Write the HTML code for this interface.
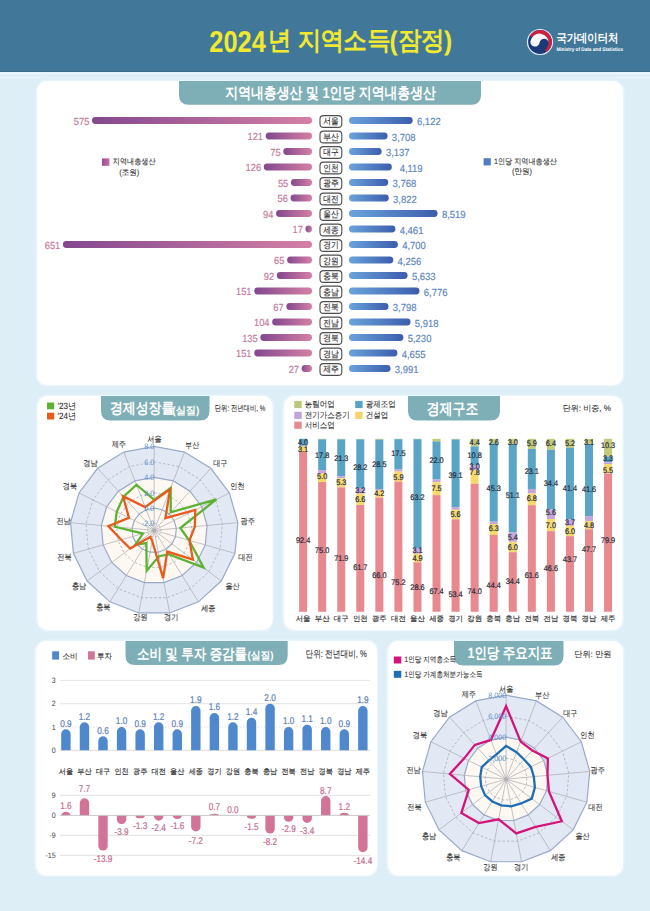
<!DOCTYPE html><html><head><meta charset="utf-8"><style>*{margin:0;padding:0}html,body{width:650px;height:911px;overflow:hidden;background:#deeef7}svg{position:absolute;left:0;top:0}</style></head><body><svg width="650" height="911" viewBox="0 0 650 911" font-family="'Liberation Sans', sans-serif" text-rendering="geometricPrecision"><rect x="0.00" y="0.00" width="650.00" height="72.00" rx="0" fill="#417899"/>
<rect x="0.00" y="71.00" width="650.00" height="1.00" rx="0" fill="#3b6c8a"/>
<rect x="0.00" y="72.00" width="650.00" height="3.00" rx="0" fill="#e5f4fb"/>
<rect x="0.00" y="75.00" width="650.00" height="1.00" rx="0" fill="#d8eaf3"/>
<rect x="0.00" y="76.00" width="650.00" height="2.50" rx="0" fill="#e3f2f9"/>
<rect x="35.5" y="79.5" width="589" height="307.3" rx="11.5" fill="#e6f4fb"/>
<rect x="37.00" y="81.00" width="586.00" height="304.30" rx="10" fill="#fff"/>
<path d="M179,81 L481,81 L481,95.3 Q481,104.8 471.5,104.8 L188.5,104.8 Q179,104.8 179,95.3 Z" fill="#7fafb6"/>
<text transform="translate(330.60,98.37) scale(0.835,1)" text-anchor="middle" font-size="15.4" fill="#fff" font-weight="bold">지역내총생산 및 1인당 지역내총생산</text>
<defs><linearGradient id="gl" x1="0" x2="1" y1="0" y2="0"><stop offset="0" stop-color="#83488f"/><stop offset="1" stop-color="#d480a4"/></linearGradient><linearGradient id="gr" x1="0" x2="1" y1="0" y2="0"><stop offset="0" stop-color="#6aa3db"/><stop offset="1" stop-color="#3c5dad"/></linearGradient><linearGradient id="glg" x1="0" x2="1" y1="0" y2="0"><stop offset="0" stop-color="#9c4c93"/><stop offset="1" stop-color="#c76ea3"/></linearGradient></defs>
<rect x="92.00" y="117.10" width="220.00" height="6.80" rx="3.4" fill="url(#gl)"/>
<text transform="translate(89.30,124.79) scale(0.9,1)" text-anchor="end" font-size="10.3" fill="#c4769a" stroke="#c4769a" stroke-width="0.15">575</text>
<rect x="349.00" y="117.10" width="63.67" height="6.80" rx="3.4" fill="url(#gr)"/>
<text transform="translate(416.97,125.39) scale(0.92,1)" text-anchor="start" font-size="10.3" fill="#5a84bf" stroke="#5a84bf" stroke-width="0.15">6,122</text>
<rect x="320" y="115.60" width="21.8" height="11.8" rx="3.5" fill="#fff" stroke="#4d4d4d" stroke-width="1.1"/>
<text transform="translate(330.90,124.26) scale(0.87,1)" text-anchor="middle" font-size="8.9" fill="#333" stroke="#333" stroke-width="0.14">서울</text>
<rect x="265.71" y="132.60" width="46.29" height="6.80" rx="3.4" fill="url(#gl)"/>
<text transform="translate(263.01,140.29) scale(0.9,1)" text-anchor="end" font-size="10.3" fill="#c4769a" stroke="#c4769a" stroke-width="0.15">121</text>
<rect x="349.00" y="132.60" width="38.56" height="6.80" rx="3.4" fill="url(#gr)"/>
<text transform="translate(391.86,140.89) scale(0.92,1)" text-anchor="start" font-size="10.3" fill="#5a84bf" stroke="#5a84bf" stroke-width="0.15">3,708</text>
<rect x="320" y="131.10" width="21.8" height="11.8" rx="3.5" fill="#fff" stroke="#4d4d4d" stroke-width="1.1"/>
<text transform="translate(330.90,139.76) scale(0.87,1)" text-anchor="middle" font-size="8.9" fill="#333" stroke="#333" stroke-width="0.14">부산</text>
<rect x="283.31" y="148.10" width="28.70" height="6.80" rx="3.4" fill="url(#gl)"/>
<text transform="translate(280.61,155.79) scale(0.9,1)" text-anchor="end" font-size="10.3" fill="#c4769a" stroke="#c4769a" stroke-width="0.15">75</text>
<rect x="349.00" y="148.10" width="32.62" height="6.80" rx="3.4" fill="url(#gr)"/>
<text transform="translate(385.92,156.39) scale(0.92,1)" text-anchor="start" font-size="10.3" fill="#5a84bf" stroke="#5a84bf" stroke-width="0.15">3,137</text>
<rect x="320" y="146.60" width="21.8" height="11.8" rx="3.5" fill="#fff" stroke="#4d4d4d" stroke-width="1.1"/>
<text transform="translate(330.90,155.26) scale(0.87,1)" text-anchor="middle" font-size="8.9" fill="#333" stroke="#333" stroke-width="0.14">대구</text>
<rect x="263.79" y="163.60" width="48.21" height="6.80" rx="3.4" fill="url(#gl)"/>
<text transform="translate(261.09,171.29) scale(0.9,1)" text-anchor="end" font-size="10.3" fill="#c4769a" stroke="#c4769a" stroke-width="0.15">126</text>
<rect x="349.00" y="163.60" width="42.84" height="6.80" rx="3.4" fill="url(#gr)"/>
<text transform="translate(399.64,171.89) scale(0.92,1)" text-anchor="start" font-size="10.3" fill="#5a84bf" stroke="#5a84bf" stroke-width="0.15">4,119</text>
<rect x="320" y="162.10" width="21.8" height="11.8" rx="3.5" fill="#fff" stroke="#4d4d4d" stroke-width="1.1"/>
<text transform="translate(330.90,170.76) scale(0.87,1)" text-anchor="middle" font-size="8.9" fill="#333" stroke="#333" stroke-width="0.14">인천</text>
<rect x="290.96" y="179.10" width="21.04" height="6.80" rx="3.4" fill="url(#gl)"/>
<text transform="translate(288.26,186.79) scale(0.9,1)" text-anchor="end" font-size="10.3" fill="#c4769a" stroke="#c4769a" stroke-width="0.15">55</text>
<rect x="349.00" y="179.10" width="39.19" height="6.80" rx="3.4" fill="url(#gr)"/>
<text transform="translate(392.49,187.39) scale(0.92,1)" text-anchor="start" font-size="10.3" fill="#5a84bf" stroke="#5a84bf" stroke-width="0.15">3,768</text>
<rect x="320" y="177.60" width="21.8" height="11.8" rx="3.5" fill="#fff" stroke="#4d4d4d" stroke-width="1.1"/>
<text transform="translate(330.90,186.26) scale(0.87,1)" text-anchor="middle" font-size="8.9" fill="#333" stroke="#333" stroke-width="0.14">광주</text>
<rect x="290.57" y="194.60" width="21.43" height="6.80" rx="3.4" fill="url(#gl)"/>
<text transform="translate(287.87,202.29) scale(0.9,1)" text-anchor="end" font-size="10.3" fill="#c4769a" stroke="#c4769a" stroke-width="0.15">56</text>
<rect x="349.00" y="194.60" width="39.75" height="6.80" rx="3.4" fill="url(#gr)"/>
<text transform="translate(393.05,202.89) scale(0.92,1)" text-anchor="start" font-size="10.3" fill="#5a84bf" stroke="#5a84bf" stroke-width="0.15">3,822</text>
<rect x="320" y="193.10" width="21.8" height="11.8" rx="3.5" fill="#fff" stroke="#4d4d4d" stroke-width="1.1"/>
<text transform="translate(330.90,201.76) scale(0.87,1)" text-anchor="middle" font-size="8.9" fill="#333" stroke="#333" stroke-width="0.14">대전</text>
<rect x="276.04" y="210.10" width="35.96" height="6.80" rx="3.4" fill="url(#gl)"/>
<text transform="translate(273.34,217.79) scale(0.9,1)" text-anchor="end" font-size="10.3" fill="#c4769a" stroke="#c4769a" stroke-width="0.15">94</text>
<rect x="349.00" y="210.10" width="88.60" height="6.80" rx="3.4" fill="url(#gr)"/>
<text transform="translate(441.90,218.39) scale(0.92,1)" text-anchor="start" font-size="10.3" fill="#5a84bf" stroke="#5a84bf" stroke-width="0.15">8,519</text>
<rect x="320" y="208.60" width="21.8" height="11.8" rx="3.5" fill="#fff" stroke="#4d4d4d" stroke-width="1.1"/>
<text transform="translate(330.90,217.26) scale(0.87,1)" text-anchor="middle" font-size="8.9" fill="#333" stroke="#333" stroke-width="0.14">울산</text>
<rect x="305.50" y="225.60" width="6.50" height="6.80" rx="3.4" fill="url(#gl)"/>
<text transform="translate(302.80,233.29) scale(0.9,1)" text-anchor="end" font-size="10.3" fill="#c4769a" stroke="#c4769a" stroke-width="0.15">17</text>
<rect x="349.00" y="225.60" width="46.39" height="6.80" rx="3.4" fill="url(#gr)"/>
<text transform="translate(399.69,233.89) scale(0.92,1)" text-anchor="start" font-size="10.3" fill="#5a84bf" stroke="#5a84bf" stroke-width="0.15">4,461</text>
<rect x="320" y="224.10" width="21.8" height="11.8" rx="3.5" fill="#fff" stroke="#4d4d4d" stroke-width="1.1"/>
<text transform="translate(330.90,232.76) scale(0.87,1)" text-anchor="middle" font-size="8.9" fill="#333" stroke="#333" stroke-width="0.14">세종</text>
<rect x="62.93" y="241.10" width="249.07" height="6.80" rx="3.4" fill="url(#gl)"/>
<text transform="translate(60.23,248.79) scale(0.9,1)" text-anchor="end" font-size="10.3" fill="#c4769a" stroke="#c4769a" stroke-width="0.15">651</text>
<rect x="349.00" y="241.10" width="48.88" height="6.80" rx="3.4" fill="url(#gr)"/>
<text transform="translate(402.18,249.39) scale(0.92,1)" text-anchor="start" font-size="10.3" fill="#5a84bf" stroke="#5a84bf" stroke-width="0.15">4,700</text>
<rect x="320" y="239.60" width="21.8" height="11.8" rx="3.5" fill="#fff" stroke="#4d4d4d" stroke-width="1.1"/>
<text transform="translate(330.90,248.26) scale(0.87,1)" text-anchor="middle" font-size="8.9" fill="#333" stroke="#333" stroke-width="0.14">경기</text>
<rect x="287.13" y="256.60" width="24.87" height="6.80" rx="3.4" fill="url(#gl)"/>
<text transform="translate(284.43,264.29) scale(0.9,1)" text-anchor="end" font-size="10.3" fill="#c4769a" stroke="#c4769a" stroke-width="0.15">65</text>
<rect x="349.00" y="256.60" width="44.26" height="6.80" rx="3.4" fill="url(#gr)"/>
<text transform="translate(397.56,264.89) scale(0.92,1)" text-anchor="start" font-size="10.3" fill="#5a84bf" stroke="#5a84bf" stroke-width="0.15">4,256</text>
<rect x="320" y="255.10" width="21.8" height="11.8" rx="3.5" fill="#fff" stroke="#4d4d4d" stroke-width="1.1"/>
<text transform="translate(330.90,263.76) scale(0.87,1)" text-anchor="middle" font-size="8.9" fill="#333" stroke="#333" stroke-width="0.14">강원</text>
<rect x="276.80" y="272.10" width="35.20" height="6.80" rx="3.4" fill="url(#gl)"/>
<text transform="translate(274.10,279.79) scale(0.9,1)" text-anchor="end" font-size="10.3" fill="#c4769a" stroke="#c4769a" stroke-width="0.15">92</text>
<rect x="349.00" y="272.10" width="58.58" height="6.80" rx="3.4" fill="url(#gr)"/>
<text transform="translate(411.88,280.39) scale(0.92,1)" text-anchor="start" font-size="10.3" fill="#5a84bf" stroke="#5a84bf" stroke-width="0.15">5,633</text>
<rect x="320" y="270.60" width="21.8" height="11.8" rx="3.5" fill="#fff" stroke="#4d4d4d" stroke-width="1.1"/>
<text transform="translate(330.90,279.26) scale(0.87,1)" text-anchor="middle" font-size="8.9" fill="#333" stroke="#333" stroke-width="0.14">충북</text>
<rect x="254.23" y="287.60" width="57.77" height="6.80" rx="3.4" fill="url(#gl)"/>
<text transform="translate(251.53,295.29) scale(0.9,1)" text-anchor="end" font-size="10.3" fill="#c4769a" stroke="#c4769a" stroke-width="0.15">151</text>
<rect x="349.00" y="287.60" width="70.47" height="6.80" rx="3.4" fill="url(#gr)"/>
<text transform="translate(423.77,295.89) scale(0.92,1)" text-anchor="start" font-size="10.3" fill="#5a84bf" stroke="#5a84bf" stroke-width="0.15">6,776</text>
<rect x="320" y="286.10" width="21.8" height="11.8" rx="3.5" fill="#fff" stroke="#4d4d4d" stroke-width="1.1"/>
<text transform="translate(330.90,294.76) scale(0.87,1)" text-anchor="middle" font-size="8.9" fill="#333" stroke="#333" stroke-width="0.14">충남</text>
<rect x="286.37" y="303.10" width="25.63" height="6.80" rx="3.4" fill="url(#gl)"/>
<text transform="translate(283.67,310.79) scale(0.9,1)" text-anchor="end" font-size="10.3" fill="#c4769a" stroke="#c4769a" stroke-width="0.15">67</text>
<rect x="349.00" y="303.10" width="39.50" height="6.80" rx="3.4" fill="url(#gr)"/>
<text transform="translate(392.80,311.39) scale(0.92,1)" text-anchor="start" font-size="10.3" fill="#5a84bf" stroke="#5a84bf" stroke-width="0.15">3,798</text>
<rect x="320" y="301.60" width="21.8" height="11.8" rx="3.5" fill="#fff" stroke="#4d4d4d" stroke-width="1.1"/>
<text transform="translate(330.90,310.26) scale(0.87,1)" text-anchor="middle" font-size="8.9" fill="#333" stroke="#333" stroke-width="0.14">전북</text>
<rect x="272.21" y="318.60" width="39.79" height="6.80" rx="3.4" fill="url(#gl)"/>
<text transform="translate(269.51,326.29) scale(0.9,1)" text-anchor="end" font-size="10.3" fill="#c4769a" stroke="#c4769a" stroke-width="0.15">104</text>
<rect x="349.00" y="318.60" width="61.55" height="6.80" rx="3.4" fill="url(#gr)"/>
<text transform="translate(414.85,326.89) scale(0.92,1)" text-anchor="start" font-size="10.3" fill="#5a84bf" stroke="#5a84bf" stroke-width="0.15">5,918</text>
<rect x="320" y="317.10" width="21.8" height="11.8" rx="3.5" fill="#fff" stroke="#4d4d4d" stroke-width="1.1"/>
<text transform="translate(330.90,325.76) scale(0.87,1)" text-anchor="middle" font-size="8.9" fill="#333" stroke="#333" stroke-width="0.14">전남</text>
<rect x="260.35" y="334.10" width="51.65" height="6.80" rx="3.4" fill="url(#gl)"/>
<text transform="translate(257.65,341.79) scale(0.9,1)" text-anchor="end" font-size="10.3" fill="#c4769a" stroke="#c4769a" stroke-width="0.15">135</text>
<rect x="349.00" y="334.10" width="54.39" height="6.80" rx="3.4" fill="url(#gr)"/>
<text transform="translate(407.69,342.39) scale(0.92,1)" text-anchor="start" font-size="10.3" fill="#5a84bf" stroke="#5a84bf" stroke-width="0.15">5,230</text>
<rect x="320" y="332.60" width="21.8" height="11.8" rx="3.5" fill="#fff" stroke="#4d4d4d" stroke-width="1.1"/>
<text transform="translate(330.90,341.26) scale(0.87,1)" text-anchor="middle" font-size="8.9" fill="#333" stroke="#333" stroke-width="0.14">경북</text>
<rect x="254.23" y="349.60" width="57.77" height="6.80" rx="3.4" fill="url(#gl)"/>
<text transform="translate(251.53,357.29) scale(0.9,1)" text-anchor="end" font-size="10.3" fill="#c4769a" stroke="#c4769a" stroke-width="0.15">151</text>
<rect x="349.00" y="349.60" width="48.41" height="6.80" rx="3.4" fill="url(#gr)"/>
<text transform="translate(401.71,357.89) scale(0.92,1)" text-anchor="start" font-size="10.3" fill="#5a84bf" stroke="#5a84bf" stroke-width="0.15">4,655</text>
<rect x="320" y="348.10" width="21.8" height="11.8" rx="3.5" fill="#fff" stroke="#4d4d4d" stroke-width="1.1"/>
<text transform="translate(330.90,356.76) scale(0.87,1)" text-anchor="middle" font-size="8.9" fill="#333" stroke="#333" stroke-width="0.14">경남</text>
<rect x="301.67" y="365.10" width="10.33" height="6.80" rx="3.4" fill="url(#gl)"/>
<text transform="translate(298.97,372.79) scale(0.9,1)" text-anchor="end" font-size="10.3" fill="#c4769a" stroke="#c4769a" stroke-width="0.15">27</text>
<rect x="349.00" y="365.10" width="41.51" height="6.80" rx="3.4" fill="url(#gr)"/>
<text transform="translate(394.81,373.39) scale(0.92,1)" text-anchor="start" font-size="10.3" fill="#5a84bf" stroke="#5a84bf" stroke-width="0.15">3,991</text>
<rect x="320" y="363.60" width="21.8" height="11.8" rx="3.5" fill="#fff" stroke="#4d4d4d" stroke-width="1.1"/>
<text transform="translate(330.90,372.26) scale(0.87,1)" text-anchor="middle" font-size="8.9" fill="#333" stroke="#333" stroke-width="0.14">제주</text>
<rect x="102.00" y="158.40" width="7.40" height="7.40" rx="0" fill="url(#glg)"/>
<text transform="translate(112.80,164.38) scale(0.89,1)" text-anchor="start" font-size="8" fill="#333" stroke="#333" stroke-width="0.1">지역내총생산</text>
<text transform="translate(129.20,174.58) scale(0.94,1)" text-anchor="middle" font-size="8" fill="#333" stroke="#333" stroke-width="0.1">(조원)</text>
<rect x="483.60" y="158.20" width="7.20" height="7.20" rx="0" fill="#4f7cc4"/>
<text transform="translate(494.00,164.18) scale(0.89,1)" text-anchor="start" font-size="8" fill="#333" stroke="#333" stroke-width="0.1">1인당 지역내총생산</text>
<text transform="translate(522.00,174.48) scale(0.94,1)" text-anchor="middle" font-size="8" fill="#333" stroke="#333" stroke-width="0.1">(만원)</text>
<rect x="36.0" y="394.5" width="238.0" height="237" rx="11.5" fill="#e6f4fb"/>
<rect x="37.50" y="396.00" width="235.00" height="234.00" rx="10" fill="#fff"/>
<path d="M101,396 L209.5,396 L209.5,411.0 Q209.5,420.5 200.0,420.5 L110.5,420.5 Q101,420.5 101,411.0 Z" fill="#7fafb6"/>
<text transform="translate(110.00,413.19) scale(0.87,1)" text-anchor="start" font-size="14.8" fill="#fff" font-weight="bold">경제성장률</text>
<text transform="translate(172.30,414.09) scale(0.96,1)" text-anchor="start" font-size="10.6" fill="#fff" font-weight="bold">(실질)</text>
<text transform="translate(214.80,410.90) scale(0.755,1)" text-anchor="start" font-size="8.4" fill="#333" stroke="#333" stroke-width="0.1">단위: 전년대비, %</text>
<rect x="47.00" y="402.50" width="7.20" height="6.80" rx="0" fill="#5db234"/>
<text transform="translate(57.50,408.79) scale(0.9,1)" text-anchor="start" font-size="9" fill="#333" stroke="#333" stroke-width="0.1">'23년</text>
<rect x="47.00" y="412.70" width="7.20" height="6.80" rx="0" fill="#e85b1c"/>
<text transform="translate(57.50,418.99) scale(0.9,1)" text-anchor="start" font-size="9" fill="#333" stroke="#333" stroke-width="0.1">'24년</text>
<polygon points="154.20,446.40 184.54,452.07 210.79,468.32 229.39,492.96 237.84,522.65 234.99,553.39 221.23,581.02 198.42,601.82 169.63,612.97 138.77,612.97 109.98,601.82 87.17,581.02 73.41,553.39 70.56,522.65 79.01,492.96 97.61,468.32 123.86,452.07" fill="#e3e8f5" stroke="#98aac8" stroke-width="1.2"/>
<polygon points="154.20,477.30 173.38,480.89 189.97,491.16 201.73,506.73 207.07,525.50 205.27,544.93 196.57,562.40 182.15,575.55 163.96,582.60 144.44,582.60 126.25,575.55 111.83,562.40 103.13,544.93 101.33,525.50 106.67,506.73 118.43,491.16 135.02,480.89" fill="#fdf8f1" stroke="#98aac8" stroke-width="1.2"/>
<polygon points="154.20,461.90 178.95,466.53 200.35,479.78 215.52,499.87 222.41,524.08 220.09,549.15 208.86,571.68 190.26,588.64 166.79,597.73 141.61,597.73 118.14,588.64 99.54,571.68 88.31,549.15 85.99,524.08 92.88,499.87 108.05,479.78 129.45,466.53" fill="none" stroke="#a9adb6" stroke-width="0.8" stroke-dasharray="2.5,2"/>
<polygon points="154.20,492.80 167.78,495.34 179.53,502.61 187.86,513.64 191.64,526.93 190.36,540.69 184.21,553.06 173.99,562.37 161.11,567.36 147.29,567.36 134.41,562.37 124.19,553.06 118.04,540.69 116.76,526.93 120.54,513.64 128.87,502.61 140.62,495.34" fill="none" stroke="#a9adb6" stroke-width="0.8" stroke-dasharray="2.5,2"/>
<polygon points="154.20,523.60 156.66,524.06 158.78,525.37 160.29,527.37 160.97,529.77 160.74,532.26 159.63,534.50 157.78,536.18 155.45,537.08 152.95,537.08 150.62,536.18 148.77,534.50 147.66,532.26 147.43,529.77 148.11,527.37 149.62,525.37 151.74,524.06" fill="none" stroke="#a9adb6" stroke-width="0.8" stroke-dasharray="2.5,2"/>
<polygon points="154.20,508.20 162.22,509.70 169.16,513.99 174.07,520.50 176.31,528.35 175.55,536.48 171.92,543.78 165.89,549.27 158.28,552.22 150.12,552.22 142.51,549.27 136.48,543.78 132.85,536.48 132.09,528.35 134.33,520.50 139.24,513.99 146.18,509.70" fill="none" stroke="#98aac8" stroke-width="1.2"/>
<line x1="154.2" y1="530.4" x2="154.20" y2="446.40" stroke="#ababb2" stroke-width="0.7"/>
<line x1="154.2" y1="530.4" x2="184.54" y2="452.07" stroke="#ababb2" stroke-width="0.7"/>
<line x1="154.2" y1="530.4" x2="210.79" y2="468.32" stroke="#ababb2" stroke-width="0.7"/>
<line x1="154.2" y1="530.4" x2="229.39" y2="492.96" stroke="#ababb2" stroke-width="0.7"/>
<line x1="154.2" y1="530.4" x2="237.84" y2="522.65" stroke="#ababb2" stroke-width="0.7"/>
<line x1="154.2" y1="530.4" x2="234.99" y2="553.39" stroke="#ababb2" stroke-width="0.7"/>
<line x1="154.2" y1="530.4" x2="221.23" y2="581.02" stroke="#ababb2" stroke-width="0.7"/>
<line x1="154.2" y1="530.4" x2="198.42" y2="601.82" stroke="#ababb2" stroke-width="0.7"/>
<line x1="154.2" y1="530.4" x2="169.63" y2="612.97" stroke="#ababb2" stroke-width="0.7"/>
<line x1="154.2" y1="530.4" x2="138.77" y2="612.97" stroke="#ababb2" stroke-width="0.7"/>
<line x1="154.2" y1="530.4" x2="109.98" y2="601.82" stroke="#ababb2" stroke-width="0.7"/>
<line x1="154.2" y1="530.4" x2="87.17" y2="581.02" stroke="#ababb2" stroke-width="0.7"/>
<line x1="154.2" y1="530.4" x2="73.41" y2="553.39" stroke="#ababb2" stroke-width="0.7"/>
<line x1="154.2" y1="530.4" x2="70.56" y2="522.65" stroke="#ababb2" stroke-width="0.7"/>
<line x1="154.2" y1="530.4" x2="79.01" y2="492.96" stroke="#ababb2" stroke-width="0.7"/>
<line x1="154.2" y1="530.4" x2="97.61" y2="468.32" stroke="#ababb2" stroke-width="0.7"/>
<line x1="154.2" y1="530.4" x2="123.86" y2="452.07" stroke="#ababb2" stroke-width="0.7"/>
<circle cx="154.2" cy="530.4" r="2" fill="#b0b0b0"/>
<polygon points="154.20,499.90 170.66,487.90 170.72,512.28 216.39,499.43 180.30,527.98 189.10,540.33 203.56,567.68 169.03,554.35 159.02,556.20 146.68,570.64 146.34,543.10 135.32,544.66 142.98,533.59 114.81,526.75 116.73,511.74 123.54,496.77 136.50,484.71" fill="none" stroke="#5db234" stroke-width="2.3" stroke-linejoin="miter"/>
<polygon points="154.20,500.50 170.12,489.30 165.40,518.12 195.27,509.95 194.84,526.63 189.49,540.44 192.87,559.60 167.29,551.54 163.12,578.12 152.21,541.05 150.23,536.80 130.21,548.51 121.24,539.78 108.34,526.15 128.99,517.85 122.93,496.10 145.17,507.09" fill="none" stroke="#e85b1c" stroke-width="2.3" stroke-linejoin="miter"/>
<text transform="translate(154.20,449.23) scale(0.9,1)" text-anchor="end" font-size="7.9" fill="#5b8ed0">8.0</text>
<text transform="translate(154.20,464.73) scale(0.9,1)" text-anchor="end" font-size="7.9" fill="#5b8ed0">6.0</text>
<text transform="translate(154.20,480.13) scale(0.9,1)" text-anchor="end" font-size="7.9" fill="#5b8ed0">4.0</text>
<text transform="translate(154.20,495.63) scale(0.9,1)" text-anchor="end" font-size="7.9" fill="#5b8ed0">2.0</text>
<text transform="translate(154.20,511.03) scale(0.9,1)" text-anchor="end" font-size="7.9" fill="#5b8ed0">0.0</text>
<text transform="translate(154.20,526.43) scale(0.9,1)" text-anchor="end" font-size="7.9" fill="#5b8ed0">-2.0</text>
<text transform="translate(154.40,442.27) scale(0.86,1)" text-anchor="middle" font-size="8.3" fill="#3a3a3a" stroke="#3a3a3a" stroke-width="0.12">서울</text>
<text transform="translate(192.20,448.07) scale(0.86,1)" text-anchor="middle" font-size="8.3" fill="#3a3a3a" stroke="#3a3a3a" stroke-width="0.12">부산</text>
<text transform="translate(220.30,466.47) scale(0.86,1)" text-anchor="middle" font-size="8.3" fill="#3a3a3a" stroke="#3a3a3a" stroke-width="0.12">대구</text>
<text transform="translate(237.40,489.07) scale(0.86,1)" text-anchor="middle" font-size="8.3" fill="#3a3a3a" stroke="#3a3a3a" stroke-width="0.12">인천</text>
<text transform="translate(247.70,523.57) scale(0.86,1)" text-anchor="middle" font-size="8.3" fill="#3a3a3a" stroke="#3a3a3a" stroke-width="0.12">광주</text>
<text transform="translate(245.50,560.07) scale(0.86,1)" text-anchor="middle" font-size="8.3" fill="#3a3a3a" stroke="#3a3a3a" stroke-width="0.12">대전</text>
<text transform="translate(232.60,589.17) scale(0.86,1)" text-anchor="middle" font-size="8.3" fill="#3a3a3a" stroke="#3a3a3a" stroke-width="0.12">울산</text>
<text transform="translate(208.30,610.77) scale(0.86,1)" text-anchor="middle" font-size="8.3" fill="#3a3a3a" stroke="#3a3a3a" stroke-width="0.12">세종</text>
<text transform="translate(171.20,620.47) scale(0.86,1)" text-anchor="middle" font-size="8.3" fill="#3a3a3a" stroke="#3a3a3a" stroke-width="0.12">경기</text>
<text transform="translate(140.50,620.47) scale(0.86,1)" text-anchor="middle" font-size="8.3" fill="#3a3a3a" stroke="#3a3a3a" stroke-width="0.12">강원</text>
<text transform="translate(103.30,609.87) scale(0.86,1)" text-anchor="middle" font-size="8.3" fill="#3a3a3a" stroke="#3a3a3a" stroke-width="0.12">충북</text>
<text transform="translate(79.10,589.17) scale(0.86,1)" text-anchor="middle" font-size="8.3" fill="#3a3a3a" stroke="#3a3a3a" stroke-width="0.12">충남</text>
<text transform="translate(64.50,560.07) scale(0.86,1)" text-anchor="middle" font-size="8.3" fill="#3a3a3a" stroke="#3a3a3a" stroke-width="0.12">전북</text>
<text transform="translate(63.60,523.57) scale(0.86,1)" text-anchor="middle" font-size="8.3" fill="#3a3a3a" stroke="#3a3a3a" stroke-width="0.12">전남</text>
<text transform="translate(70.00,489.07) scale(0.86,1)" text-anchor="middle" font-size="8.3" fill="#3a3a3a" stroke="#3a3a3a" stroke-width="0.12">경북</text>
<text transform="translate(90.40,466.47) scale(0.86,1)" text-anchor="middle" font-size="8.3" fill="#3a3a3a" stroke="#3a3a3a" stroke-width="0.12">경남</text>
<text transform="translate(118.80,447.47) scale(0.86,1)" text-anchor="middle" font-size="8.3" fill="#3a3a3a" stroke="#3a3a3a" stroke-width="0.12">제주</text>
<rect x="282.5" y="394.5" width="341.5" height="237" rx="11.5" fill="#e6f4fb"/>
<rect x="284.00" y="396.00" width="338.50" height="234.00" rx="10" fill="#fff"/>
<path d="M408,396 L500,396 L500,411.0 Q500,420.5 490.5,420.5 L417.5,420.5 Q408,420.5 408,411.0 Z" fill="#7fafb6"/>
<text transform="translate(452.50,413.87) scale(0.83,1)" text-anchor="middle" font-size="15.7" fill="#fff" font-weight="bold">경제구조</text>
<text transform="translate(562.70,411.20) scale(0.96,1)" text-anchor="start" font-size="8.4" fill="#333" stroke="#333" stroke-width="0.1">단위: 비중, %</text>
<rect x="294.30" y="400.90" width="7.40" height="7.20" rx="0" fill="#bcc77a"/>
<text transform="translate(304.80,407.47) scale(0.87,1)" text-anchor="start" font-size="8.6" fill="#333" stroke="#333" stroke-width="0.1">농림어업</text>
<rect x="355.20" y="400.90" width="7.40" height="7.20" rx="0" fill="#5aa3c4"/>
<text transform="translate(365.70,407.47) scale(0.87,1)" text-anchor="start" font-size="8.6" fill="#333" stroke="#333" stroke-width="0.1">광제조업</text>
<rect x="294.30" y="411.80" width="7.40" height="7.20" rx="0" fill="#c3a3d8"/>
<text transform="translate(304.80,418.37) scale(0.87,1)" text-anchor="start" font-size="8.6" fill="#333" stroke="#333" stroke-width="0.1">전기가스증기</text>
<rect x="355.20" y="411.80" width="7.40" height="7.20" rx="0" fill="#f5d565"/>
<text transform="translate(365.70,418.37) scale(0.87,1)" text-anchor="start" font-size="8.6" fill="#333" stroke="#333" stroke-width="0.1">건설업</text>
<rect x="294.30" y="421.60" width="7.40" height="7.20" rx="0" fill="#e4898f"/>
<text transform="translate(304.80,428.17) scale(0.87,1)" text-anchor="start" font-size="8.6" fill="#333" stroke="#333" stroke-width="0.1">서비스업</text>
<rect x="299.10" y="438.80" width="8.00" height="0.05" rx="0" fill="#c3cb7b"/>
<rect x="299.10" y="438.80" width="8.00" height="6.97" rx="0" fill="#5aa5c5"/>
<rect x="299.10" y="445.72" width="8.00" height="0.91" rx="0" fill="#c6a6da"/>
<rect x="299.10" y="446.58" width="8.00" height="5.41" rx="0" fill="#f6d96b"/>
<rect x="299.10" y="451.94" width="8.00" height="159.81" rx="0" fill="#e8898f"/>
<text transform="translate(303.10,620.59) scale(1.0,1)" text-anchor="middle" font-size="7.4" fill="#333" stroke="#333" stroke-width="0.18">서울</text>
<rect x="318.16" y="438.80" width="8.00" height="0.57" rx="0" fill="#c3cb7b"/>
<rect x="318.16" y="439.32" width="8.00" height="30.83" rx="0" fill="#5aa5c5"/>
<rect x="318.16" y="470.09" width="8.00" height="3.34" rx="0" fill="#c6a6da"/>
<rect x="318.16" y="473.38" width="8.00" height="8.70" rx="0" fill="#f6d96b"/>
<rect x="318.16" y="482.03" width="8.00" height="129.73" rx="0" fill="#e8898f"/>
<text transform="translate(322.16,620.59) scale(1.0,1)" text-anchor="middle" font-size="7.4" fill="#333" stroke="#333" stroke-width="0.18">부산</text>
<rect x="337.22" y="438.80" width="8.00" height="0.57" rx="0" fill="#c3cb7b"/>
<rect x="337.22" y="439.32" width="8.00" height="36.88" rx="0" fill="#5aa5c5"/>
<rect x="337.22" y="476.15" width="8.00" height="2.12" rx="0" fill="#c6a6da"/>
<rect x="337.22" y="478.22" width="8.00" height="9.21" rx="0" fill="#f6d96b"/>
<rect x="337.22" y="487.38" width="8.00" height="124.37" rx="0" fill="#e8898f"/>
<text transform="translate(341.22,620.59) scale(1.0,1)" text-anchor="middle" font-size="7.4" fill="#333" stroke="#333" stroke-width="0.18">대구</text>
<rect x="356.28" y="438.80" width="8.00" height="0.57" rx="0" fill="#c3cb7b"/>
<rect x="356.28" y="439.32" width="8.00" height="48.81" rx="0" fill="#5aa5c5"/>
<rect x="356.28" y="488.08" width="8.00" height="5.58" rx="0" fill="#c6a6da"/>
<rect x="356.28" y="493.61" width="8.00" height="11.46" rx="0" fill="#f6d96b"/>
<rect x="356.28" y="505.02" width="8.00" height="106.73" rx="0" fill="#e8898f"/>
<text transform="translate(360.28,620.59) scale(1.0,1)" text-anchor="middle" font-size="7.4" fill="#333" stroke="#333" stroke-width="0.18">인천</text>
<rect x="375.34" y="438.80" width="8.00" height="0.91" rx="0" fill="#c3cb7b"/>
<rect x="375.34" y="439.66" width="8.00" height="49.33" rx="0" fill="#5aa5c5"/>
<rect x="375.34" y="488.94" width="8.00" height="1.43" rx="0" fill="#c6a6da"/>
<rect x="375.34" y="490.32" width="8.00" height="7.31" rx="0" fill="#f6d96b"/>
<rect x="375.34" y="497.59" width="8.00" height="114.16" rx="0" fill="#e8898f"/>
<text transform="translate(379.34,620.59) scale(1.0,1)" text-anchor="middle" font-size="7.4" fill="#333" stroke="#333" stroke-width="0.18">광주</text>
<rect x="394.40" y="438.80" width="8.00" height="0.40" rx="0" fill="#c3cb7b"/>
<rect x="394.40" y="439.15" width="8.00" height="30.31" rx="0" fill="#5aa5c5"/>
<rect x="394.40" y="469.40" width="8.00" height="2.12" rx="0" fill="#c6a6da"/>
<rect x="394.40" y="471.48" width="8.00" height="10.25" rx="0" fill="#f6d96b"/>
<rect x="394.40" y="481.68" width="8.00" height="130.07" rx="0" fill="#e8898f"/>
<text transform="translate(398.40,620.59) scale(1.0,1)" text-anchor="middle" font-size="7.4" fill="#333" stroke="#333" stroke-width="0.18">대전</text>
<rect x="413.46" y="438.80" width="8.00" height="0.40" rx="0" fill="#c3cb7b"/>
<rect x="413.46" y="439.15" width="8.00" height="109.32" rx="0" fill="#5aa5c5"/>
<rect x="413.46" y="548.42" width="8.00" height="5.41" rx="0" fill="#c6a6da"/>
<rect x="413.46" y="553.78" width="8.00" height="8.52" rx="0" fill="#f6d96b"/>
<rect x="413.46" y="562.25" width="8.00" height="49.50" rx="0" fill="#e8898f"/>
<text transform="translate(417.46,620.59) scale(1.0,1)" text-anchor="middle" font-size="7.4" fill="#333" stroke="#333" stroke-width="0.18">울산</text>
<rect x="432.52" y="438.80" width="8.00" height="2.64" rx="0" fill="#c3cb7b"/>
<rect x="432.52" y="441.39" width="8.00" height="38.09" rx="0" fill="#5aa5c5"/>
<rect x="432.52" y="479.43" width="8.00" height="2.82" rx="0" fill="#c6a6da"/>
<rect x="432.52" y="482.20" width="8.00" height="13.02" rx="0" fill="#f6d96b"/>
<rect x="432.52" y="495.17" width="8.00" height="116.58" rx="0" fill="#e8898f"/>
<text transform="translate(436.52,620.59) scale(1.0,1)" text-anchor="middle" font-size="7.4" fill="#333" stroke="#333" stroke-width="0.18">세종</text>
<rect x="451.58" y="438.80" width="8.00" height="0.74" rx="0" fill="#c3cb7b"/>
<rect x="451.58" y="439.49" width="8.00" height="67.65" rx="0" fill="#5aa5c5"/>
<rect x="451.58" y="507.10" width="8.00" height="2.64" rx="0" fill="#c6a6da"/>
<rect x="451.58" y="509.69" width="8.00" height="9.73" rx="0" fill="#f6d96b"/>
<rect x="451.58" y="519.37" width="8.00" height="92.38" rx="0" fill="#e8898f"/>
<text transform="translate(455.58,620.59) scale(1.0,1)" text-anchor="middle" font-size="7.4" fill="#333" stroke="#333" stroke-width="0.18">경기</text>
<rect x="470.64" y="438.80" width="8.00" height="7.66" rx="0" fill="#c3cb7b"/>
<rect x="470.64" y="446.41" width="8.00" height="18.72" rx="0" fill="#5aa5c5"/>
<rect x="470.64" y="465.08" width="8.00" height="5.24" rx="0" fill="#c6a6da"/>
<rect x="470.64" y="470.27" width="8.00" height="13.54" rx="0" fill="#f6d96b"/>
<rect x="470.64" y="483.75" width="8.00" height="128.00" rx="0" fill="#e8898f"/>
<text transform="translate(474.64,620.59) scale(1.0,1)" text-anchor="middle" font-size="7.4" fill="#333" stroke="#333" stroke-width="0.18">강원</text>
<rect x="489.70" y="438.80" width="8.00" height="4.55" rx="0" fill="#c3cb7b"/>
<rect x="489.70" y="443.30" width="8.00" height="78.37" rx="0" fill="#5aa5c5"/>
<rect x="489.70" y="521.62" width="8.00" height="2.47" rx="0" fill="#c6a6da"/>
<rect x="489.70" y="524.04" width="8.00" height="10.94" rx="0" fill="#f6d96b"/>
<rect x="489.70" y="534.93" width="8.00" height="76.82" rx="0" fill="#e8898f"/>
<text transform="translate(493.70,620.59) scale(1.0,1)" text-anchor="middle" font-size="7.4" fill="#333" stroke="#333" stroke-width="0.18">충북</text>
<rect x="508.76" y="438.80" width="8.00" height="5.24" rx="0" fill="#c3cb7b"/>
<rect x="508.76" y="443.99" width="8.00" height="88.49" rx="0" fill="#5aa5c5"/>
<rect x="508.76" y="532.43" width="8.00" height="9.40" rx="0" fill="#c6a6da"/>
<rect x="508.76" y="541.78" width="8.00" height="10.43" rx="0" fill="#f6d96b"/>
<rect x="508.76" y="552.16" width="8.00" height="59.59" rx="0" fill="#e8898f"/>
<text transform="translate(512.76,620.59) scale(1.0,1)" text-anchor="middle" font-size="7.4" fill="#333" stroke="#333" stroke-width="0.18">충남</text>
<rect x="527.82" y="438.80" width="8.00" height="10.25" rx="0" fill="#c3cb7b"/>
<rect x="527.82" y="449.00" width="8.00" height="39.99" rx="0" fill="#5aa5c5"/>
<rect x="527.82" y="488.94" width="8.00" height="4.55" rx="0" fill="#c6a6da"/>
<rect x="527.82" y="493.44" width="8.00" height="11.81" rx="0" fill="#f6d96b"/>
<rect x="527.82" y="505.19" width="8.00" height="106.56" rx="0" fill="#e8898f"/>
<text transform="translate(531.82,620.59) scale(1.0,1)" text-anchor="middle" font-size="7.4" fill="#333" stroke="#333" stroke-width="0.18">전북</text>
<rect x="546.88" y="438.80" width="8.00" height="11.12" rx="0" fill="#c3cb7b"/>
<rect x="546.88" y="449.87" width="8.00" height="59.53" rx="0" fill="#5aa5c5"/>
<rect x="546.88" y="509.34" width="8.00" height="9.73" rx="0" fill="#c6a6da"/>
<rect x="546.88" y="519.03" width="8.00" height="12.15" rx="0" fill="#f6d96b"/>
<rect x="546.88" y="531.13" width="8.00" height="80.62" rx="0" fill="#e8898f"/>
<text transform="translate(550.88,620.59) scale(1.0,1)" text-anchor="middle" font-size="7.4" fill="#333" stroke="#333" stroke-width="0.18">전남</text>
<rect x="565.94" y="438.80" width="8.00" height="9.04" rx="0" fill="#c3cb7b"/>
<rect x="565.94" y="447.79" width="8.00" height="71.63" rx="0" fill="#5aa5c5"/>
<rect x="565.94" y="519.37" width="8.00" height="6.45" rx="0" fill="#c6a6da"/>
<rect x="565.94" y="525.77" width="8.00" height="10.42" rx="0" fill="#f6d96b"/>
<rect x="565.94" y="536.14" width="8.00" height="75.61" rx="0" fill="#e8898f"/>
<text transform="translate(569.94,620.59) scale(1.0,1)" text-anchor="middle" font-size="7.4" fill="#333" stroke="#333" stroke-width="0.18">경북</text>
<rect x="585.00" y="438.80" width="8.00" height="5.41" rx="0" fill="#c3cb7b"/>
<rect x="585.00" y="444.16" width="8.00" height="71.98" rx="0" fill="#5aa5c5"/>
<rect x="585.00" y="516.09" width="8.00" height="4.89" rx="0" fill="#c6a6da"/>
<rect x="585.00" y="520.93" width="8.00" height="8.35" rx="0" fill="#f6d96b"/>
<rect x="585.00" y="529.23" width="8.00" height="82.52" rx="0" fill="#e8898f"/>
<text transform="translate(589.00,620.59) scale(1.0,1)" text-anchor="middle" font-size="7.4" fill="#333" stroke="#333" stroke-width="0.18">경남</text>
<rect x="604.06" y="438.80" width="8.00" height="17.86" rx="0" fill="#c3cb7b"/>
<rect x="604.06" y="456.61" width="8.00" height="5.76" rx="0" fill="#5aa5c5"/>
<rect x="604.06" y="462.31" width="8.00" height="1.78" rx="0" fill="#c6a6da"/>
<rect x="604.06" y="464.04" width="8.00" height="9.56" rx="0" fill="#f6d96b"/>
<rect x="604.06" y="473.55" width="8.00" height="138.20" rx="0" fill="#e8898f"/>
<text transform="translate(608.06,620.59) scale(1.0,1)" text-anchor="middle" font-size="7.4" fill="#333" stroke="#333" stroke-width="0.18">제주</text>
<text transform="translate(303.10,444.70) scale(0.9,1)" text-anchor="middle" font-size="8.1" fill="#262b38" stroke="#262b38" stroke-width="0.22">4.0</text>
<text transform="translate(303.10,451.70) scale(0.9,1)" text-anchor="middle" font-size="8.1" fill="#262b38" stroke="#262b38" stroke-width="0.22">3.1</text>
<text transform="translate(303.10,542.90) scale(0.9,1)" text-anchor="middle" font-size="8.1" fill="#262b38" stroke="#262b38" stroke-width="0.22">92.4</text>
<text transform="translate(322.16,457.70) scale(0.9,1)" text-anchor="middle" font-size="8.1" fill="#262b38" stroke="#262b38" stroke-width="0.22">17.8</text>
<text transform="translate(322.16,479.40) scale(0.9,1)" text-anchor="middle" font-size="8.1" fill="#262b38" stroke="#262b38" stroke-width="0.22">5.0</text>
<text transform="translate(322.16,552.90) scale(0.9,1)" text-anchor="middle" font-size="8.1" fill="#262b38" stroke="#262b38" stroke-width="0.22">75.0</text>
<text transform="translate(341.22,461.10) scale(0.9,1)" text-anchor="middle" font-size="8.1" fill="#262b38" stroke="#262b38" stroke-width="0.22">21.3</text>
<text transform="translate(341.22,484.70) scale(0.9,1)" text-anchor="middle" font-size="8.1" fill="#262b38" stroke="#262b38" stroke-width="0.22">5.3</text>
<text transform="translate(341.22,560.90) scale(0.9,1)" text-anchor="middle" font-size="8.1" fill="#262b38" stroke="#262b38" stroke-width="0.22">71.9</text>
<text transform="translate(360.28,469.50) scale(0.9,1)" text-anchor="middle" font-size="8.1" fill="#262b38" stroke="#262b38" stroke-width="0.22">28.2</text>
<text transform="translate(360.28,492.50) scale(0.9,1)" text-anchor="middle" font-size="8.1" fill="#262b38" stroke="#262b38" stroke-width="0.22">3.2</text>
<text transform="translate(360.28,502.20) scale(0.9,1)" text-anchor="middle" font-size="8.1" fill="#262b38" stroke="#262b38" stroke-width="0.22">6.6</text>
<text transform="translate(360.28,569.90) scale(0.9,1)" text-anchor="middle" font-size="8.1" fill="#262b38" stroke="#262b38" stroke-width="0.22">61.7</text>
<text transform="translate(379.34,466.90) scale(0.9,1)" text-anchor="middle" font-size="8.1" fill="#262b38" stroke="#262b38" stroke-width="0.22">28.5</text>
<text transform="translate(379.34,495.70) scale(0.9,1)" text-anchor="middle" font-size="8.1" fill="#262b38" stroke="#262b38" stroke-width="0.22">4.2</text>
<text transform="translate(379.34,577.50) scale(0.9,1)" text-anchor="middle" font-size="8.1" fill="#262b38" stroke="#262b38" stroke-width="0.22">66.0</text>
<text transform="translate(398.40,456.40) scale(0.9,1)" text-anchor="middle" font-size="8.1" fill="#262b38" stroke="#262b38" stroke-width="0.22">17.5</text>
<text transform="translate(398.40,479.90) scale(0.9,1)" text-anchor="middle" font-size="8.1" fill="#262b38" stroke="#262b38" stroke-width="0.22">5.9</text>
<text transform="translate(398.40,584.60) scale(0.9,1)" text-anchor="middle" font-size="8.1" fill="#262b38" stroke="#262b38" stroke-width="0.22">75.2</text>
<text transform="translate(417.46,499.60) scale(0.9,1)" text-anchor="middle" font-size="8.1" fill="#262b38" stroke="#262b38" stroke-width="0.22">63.2</text>
<text transform="translate(417.46,552.70) scale(0.9,1)" text-anchor="middle" font-size="8.1" fill="#262b38" stroke="#262b38" stroke-width="0.22">3.1</text>
<text transform="translate(417.46,561.00) scale(0.9,1)" text-anchor="middle" font-size="8.1" fill="#262b38" stroke="#262b38" stroke-width="0.22">4.9</text>
<text transform="translate(417.46,589.90) scale(0.9,1)" text-anchor="middle" font-size="8.1" fill="#262b38" stroke="#262b38" stroke-width="0.22">28.6</text>
<text transform="translate(436.52,462.90) scale(0.9,1)" text-anchor="middle" font-size="8.1" fill="#262b38" stroke="#262b38" stroke-width="0.22">22.0</text>
<text transform="translate(436.52,490.90) scale(0.9,1)" text-anchor="middle" font-size="8.1" fill="#262b38" stroke="#262b38" stroke-width="0.22">7.5</text>
<text transform="translate(436.52,593.70) scale(0.9,1)" text-anchor="middle" font-size="8.1" fill="#262b38" stroke="#262b38" stroke-width="0.22">67.4</text>
<text transform="translate(455.58,478.40) scale(0.9,1)" text-anchor="middle" font-size="8.1" fill="#262b38" stroke="#262b38" stroke-width="0.22">39.1</text>
<text transform="translate(455.58,516.90) scale(0.9,1)" text-anchor="middle" font-size="8.1" fill="#262b38" stroke="#262b38" stroke-width="0.22">5.6</text>
<text transform="translate(455.58,596.50) scale(0.9,1)" text-anchor="middle" font-size="8.1" fill="#262b38" stroke="#262b38" stroke-width="0.22">53.4</text>
<text transform="translate(474.64,444.90) scale(0.9,1)" text-anchor="middle" font-size="8.1" fill="#262b38" stroke="#262b38" stroke-width="0.22">4.4</text>
<text transform="translate(474.64,457.90) scale(0.9,1)" text-anchor="middle" font-size="8.1" fill="#262b38" stroke="#262b38" stroke-width="0.22">10.8</text>
<text transform="translate(474.64,469.30) scale(0.9,1)" text-anchor="middle" font-size="8.1" fill="#262b38" stroke="#262b38" stroke-width="0.22">3.0</text>
<text transform="translate(474.64,475.00) scale(0.9,1)" text-anchor="middle" font-size="8.1" fill="#262b38" stroke="#262b38" stroke-width="0.22">7.8</text>
<text transform="translate(474.64,593.70) scale(0.9,1)" text-anchor="middle" font-size="8.1" fill="#262b38" stroke="#262b38" stroke-width="0.22">74.0</text>
<text transform="translate(493.70,444.90) scale(0.9,1)" text-anchor="middle" font-size="8.1" fill="#262b38" stroke="#262b38" stroke-width="0.22">2.6</text>
<text transform="translate(493.70,491.20) scale(0.9,1)" text-anchor="middle" font-size="8.1" fill="#262b38" stroke="#262b38" stroke-width="0.22">45.3</text>
<text transform="translate(493.70,531.10) scale(0.9,1)" text-anchor="middle" font-size="8.1" fill="#262b38" stroke="#262b38" stroke-width="0.22">6.3</text>
<text transform="translate(493.70,587.90) scale(0.9,1)" text-anchor="middle" font-size="8.1" fill="#262b38" stroke="#262b38" stroke-width="0.22">44.4</text>
<text transform="translate(512.76,444.90) scale(0.9,1)" text-anchor="middle" font-size="8.1" fill="#262b38" stroke="#262b38" stroke-width="0.22">3.0</text>
<text transform="translate(512.76,498.40) scale(0.9,1)" text-anchor="middle" font-size="8.1" fill="#262b38" stroke="#262b38" stroke-width="0.22">51.1</text>
<text transform="translate(512.76,539.60) scale(0.9,1)" text-anchor="middle" font-size="8.1" fill="#262b38" stroke="#262b38" stroke-width="0.22">5.4</text>
<text transform="translate(512.76,549.60) scale(0.9,1)" text-anchor="middle" font-size="8.1" fill="#262b38" stroke="#262b38" stroke-width="0.22">6.0</text>
<text transform="translate(512.76,583.70) scale(0.9,1)" text-anchor="middle" font-size="8.1" fill="#262b38" stroke="#262b38" stroke-width="0.22">34.4</text>
<text transform="translate(531.82,445.70) scale(0.9,1)" text-anchor="middle" font-size="8.1" fill="#262b38" stroke="#262b38" stroke-width="0.22">5.9</text>
<text transform="translate(531.82,474.20) scale(0.9,1)" text-anchor="middle" font-size="8.1" fill="#262b38" stroke="#262b38" stroke-width="0.22">23.1</text>
<text transform="translate(531.82,501.20) scale(0.9,1)" text-anchor="middle" font-size="8.1" fill="#262b38" stroke="#262b38" stroke-width="0.22">6.8</text>
<text transform="translate(531.82,577.90) scale(0.9,1)" text-anchor="middle" font-size="8.1" fill="#262b38" stroke="#262b38" stroke-width="0.22">61.6</text>
<text transform="translate(550.88,445.70) scale(0.9,1)" text-anchor="middle" font-size="8.1" fill="#262b38" stroke="#262b38" stroke-width="0.22">6.4</text>
<text transform="translate(550.88,485.50) scale(0.9,1)" text-anchor="middle" font-size="8.1" fill="#262b38" stroke="#262b38" stroke-width="0.22">34.4</text>
<text transform="translate(550.88,515.40) scale(0.9,1)" text-anchor="middle" font-size="8.1" fill="#262b38" stroke="#262b38" stroke-width="0.22">5.6</text>
<text transform="translate(550.88,528.20) scale(0.9,1)" text-anchor="middle" font-size="8.1" fill="#262b38" stroke="#262b38" stroke-width="0.22">7.0</text>
<text transform="translate(550.88,570.90) scale(0.9,1)" text-anchor="middle" font-size="8.1" fill="#262b38" stroke="#262b38" stroke-width="0.22">46.6</text>
<text transform="translate(569.94,445.70) scale(0.9,1)" text-anchor="middle" font-size="8.1" fill="#262b38" stroke="#262b38" stroke-width="0.22">5.2</text>
<text transform="translate(569.94,491.20) scale(0.9,1)" text-anchor="middle" font-size="8.1" fill="#262b38" stroke="#262b38" stroke-width="0.22">41.4</text>
<text transform="translate(569.94,525.40) scale(0.9,1)" text-anchor="middle" font-size="8.1" fill="#262b38" stroke="#262b38" stroke-width="0.22">3.7</text>
<text transform="translate(569.94,533.90) scale(0.9,1)" text-anchor="middle" font-size="8.1" fill="#262b38" stroke="#262b38" stroke-width="0.22">6.0</text>
<text transform="translate(569.94,562.40) scale(0.9,1)" text-anchor="middle" font-size="8.1" fill="#262b38" stroke="#262b38" stroke-width="0.22">43.7</text>
<text transform="translate(589.00,444.90) scale(0.9,1)" text-anchor="middle" font-size="8.1" fill="#262b38" stroke="#262b38" stroke-width="0.22">3.1</text>
<text transform="translate(589.00,492.10) scale(0.9,1)" text-anchor="middle" font-size="8.1" fill="#262b38" stroke="#262b38" stroke-width="0.22">41.6</text>
<text transform="translate(589.00,528.20) scale(0.9,1)" text-anchor="middle" font-size="8.1" fill="#262b38" stroke="#262b38" stroke-width="0.22">4.8</text>
<text transform="translate(589.00,552.40) scale(0.9,1)" text-anchor="middle" font-size="8.1" fill="#262b38" stroke="#262b38" stroke-width="0.22">47.7</text>
<text transform="translate(608.06,447.70) scale(0.9,1)" text-anchor="middle" font-size="8.1" fill="#262b38" stroke="#262b38" stroke-width="0.22">10.3</text>
<text transform="translate(608.06,460.80) scale(0.9,1)" text-anchor="middle" font-size="8.1" fill="#262b38" stroke="#262b38" stroke-width="0.22">3.3</text>
<text transform="translate(608.06,473.30) scale(0.9,1)" text-anchor="middle" font-size="8.1" fill="#262b38" stroke="#262b38" stroke-width="0.22">5.5</text>
<text transform="translate(608.06,542.50) scale(0.9,1)" text-anchor="middle" font-size="8.1" fill="#262b38" stroke="#262b38" stroke-width="0.22">79.9</text>
<rect x="34.5" y="639.5" width="344" height="237.5" rx="11.5" fill="#e6f4fb"/>
<rect x="36.00" y="641.00" width="341.00" height="234.50" rx="10" fill="#fff"/>
<path d="M125.5,641 L287.7,641 L287.7,655.5 Q287.7,665 278.2,665 L135.0,665 Q125.5,665 125.5,655.5 Z" fill="#7fafb6"/>
<text transform="translate(137.00,658.65) scale(0.83,1)" text-anchor="start" font-size="15" fill="#fff" font-weight="bold">소비 및 투자 증감률</text>
<text transform="translate(247.60,659.29) scale(0.92,1)" text-anchor="start" font-size="10.6" fill="#fff" font-weight="bold">(실질)</text>
<text transform="translate(305.50,657.18) scale(0.8,1)" text-anchor="start" font-size="9.6" fill="#333" stroke="#333" stroke-width="0.1">단위: 전년대비, %</text>
<rect x="52.20" y="651.30" width="6.80" height="8.30" rx="0" fill="#4f88cc"/>
<text transform="translate(62.50,658.60) scale(0.9,1)" text-anchor="start" font-size="8.4" fill="#333" stroke="#333" stroke-width="0.1">소비</text>
<rect x="88.00" y="651.30" width="6.80" height="8.30" rx="0" fill="#d27497"/>
<text transform="translate(97.00,658.60) scale(0.9,1)" text-anchor="start" font-size="8.4" fill="#333" stroke="#333" stroke-width="0.1">투자</text>
<line x1="60" y1="750.3" x2="370" y2="750.3" stroke="#e3cfd2" stroke-width="0.8"/>
<text transform="translate(55.60,753.09) scale(0.9,1)" text-anchor="end" font-size="7.8" fill="#444">0</text>
<line x1="60" y1="727.0" x2="370" y2="727.0" stroke="#e6d8d6" stroke-width="0.8" stroke-dasharray="1.5,1.5"/>
<text transform="translate(55.60,729.79) scale(0.9,1)" text-anchor="end" font-size="7.8" fill="#444">1</text>
<line x1="60" y1="703.7" x2="370" y2="703.7" stroke="#e2e2e2" stroke-width="0.9"/>
<text transform="translate(55.60,706.49) scale(0.9,1)" text-anchor="end" font-size="7.8" fill="#444">2</text>
<line x1="60" y1="680.4" x2="370" y2="680.4" stroke="#e2e2e2" stroke-width="0.9"/>
<text transform="translate(55.60,683.19) scale(0.9,1)" text-anchor="end" font-size="7.8" fill="#444">3</text>
<path d="M61.20,750.30 L61.20,734.03 A4.7,4.70 0 0 1 70.60,734.03 L70.60,750.30Z" fill="#4f88cc"/>
<text transform="translate(65.90,726.54) scale(0.84,1)" text-anchor="middle" font-size="9.8" fill="#5a80b4" stroke="#5a80b4" stroke-width="0.2">0.9</text>
<text transform="translate(65.90,773.66) scale(0.94,1)" text-anchor="middle" font-size="7.6" fill="#333" stroke="#333" stroke-width="0.16">서울</text>
<path d="M79.76,750.30 L79.76,727.04 A4.7,4.70 0 0 1 89.16,727.04 L89.16,750.30Z" fill="#4f88cc"/>
<text transform="translate(84.46,719.55) scale(0.84,1)" text-anchor="middle" font-size="9.8" fill="#5a80b4" stroke="#5a80b4" stroke-width="0.2">1.2</text>
<text transform="translate(84.46,773.66) scale(0.94,1)" text-anchor="middle" font-size="7.6" fill="#333" stroke="#333" stroke-width="0.16">부산</text>
<path d="M98.32,750.30 L98.32,741.02 A4.7,4.70 0 0 1 107.72,741.02 L107.72,750.30Z" fill="#4f88cc"/>
<text transform="translate(103.02,733.53) scale(0.84,1)" text-anchor="middle" font-size="9.8" fill="#5a80b4" stroke="#5a80b4" stroke-width="0.2">0.6</text>
<text transform="translate(103.02,773.66) scale(0.94,1)" text-anchor="middle" font-size="7.6" fill="#333" stroke="#333" stroke-width="0.16">대구</text>
<path d="M116.88,750.30 L116.88,731.70 A4.7,4.70 0 0 1 126.28,731.70 L126.28,750.30Z" fill="#4f88cc"/>
<text transform="translate(121.58,724.21) scale(0.84,1)" text-anchor="middle" font-size="9.8" fill="#5a80b4" stroke="#5a80b4" stroke-width="0.2">1.0</text>
<text transform="translate(121.58,773.66) scale(0.94,1)" text-anchor="middle" font-size="7.6" fill="#333" stroke="#333" stroke-width="0.16">인천</text>
<path d="M135.44,750.30 L135.44,734.03 A4.7,4.70 0 0 1 144.84,734.03 L144.84,750.30Z" fill="#4f88cc"/>
<text transform="translate(140.14,726.54) scale(0.84,1)" text-anchor="middle" font-size="9.8" fill="#5a80b4" stroke="#5a80b4" stroke-width="0.2">0.9</text>
<text transform="translate(140.14,773.66) scale(0.94,1)" text-anchor="middle" font-size="7.6" fill="#333" stroke="#333" stroke-width="0.16">광주</text>
<path d="M154.00,750.30 L154.00,727.04 A4.7,4.70 0 0 1 163.40,727.04 L163.40,750.30Z" fill="#4f88cc"/>
<text transform="translate(158.70,719.55) scale(0.84,1)" text-anchor="middle" font-size="9.8" fill="#5a80b4" stroke="#5a80b4" stroke-width="0.2">1.2</text>
<text transform="translate(158.70,773.66) scale(0.94,1)" text-anchor="middle" font-size="7.6" fill="#333" stroke="#333" stroke-width="0.16">대전</text>
<path d="M172.56,750.30 L172.56,734.03 A4.7,4.70 0 0 1 181.96,734.03 L181.96,750.30Z" fill="#4f88cc"/>
<text transform="translate(177.26,726.54) scale(0.84,1)" text-anchor="middle" font-size="9.8" fill="#5a80b4" stroke="#5a80b4" stroke-width="0.2">0.9</text>
<text transform="translate(177.26,773.66) scale(0.94,1)" text-anchor="middle" font-size="7.6" fill="#333" stroke="#333" stroke-width="0.16">울산</text>
<path d="M191.12,750.30 L191.12,710.73 A4.7,4.70 0 0 1 200.52,710.73 L200.52,750.30Z" fill="#4f88cc"/>
<text transform="translate(195.82,703.24) scale(0.84,1)" text-anchor="middle" font-size="9.8" fill="#5a80b4" stroke="#5a80b4" stroke-width="0.2">1.9</text>
<text transform="translate(195.82,773.66) scale(0.94,1)" text-anchor="middle" font-size="7.6" fill="#333" stroke="#333" stroke-width="0.16">세종</text>
<path d="M209.68,750.30 L209.68,717.72 A4.7,4.70 0 0 1 219.08,717.72 L219.08,750.30Z" fill="#4f88cc"/>
<text transform="translate(214.38,710.23) scale(0.84,1)" text-anchor="middle" font-size="9.8" fill="#5a80b4" stroke="#5a80b4" stroke-width="0.2">1.6</text>
<text transform="translate(214.38,773.66) scale(0.94,1)" text-anchor="middle" font-size="7.6" fill="#333" stroke="#333" stroke-width="0.16">경기</text>
<path d="M228.24,750.30 L228.24,727.04 A4.7,4.70 0 0 1 237.64,727.04 L237.64,750.30Z" fill="#4f88cc"/>
<text transform="translate(232.94,719.55) scale(0.84,1)" text-anchor="middle" font-size="9.8" fill="#5a80b4" stroke="#5a80b4" stroke-width="0.2">1.2</text>
<text transform="translate(232.94,773.66) scale(0.94,1)" text-anchor="middle" font-size="7.6" fill="#333" stroke="#333" stroke-width="0.16">강원</text>
<path d="M246.80,750.30 L246.80,722.38 A4.7,4.70 0 0 1 256.20,722.38 L256.20,750.30Z" fill="#4f88cc"/>
<text transform="translate(251.50,714.89) scale(0.84,1)" text-anchor="middle" font-size="9.8" fill="#5a80b4" stroke="#5a80b4" stroke-width="0.2">1.4</text>
<text transform="translate(251.50,773.66) scale(0.94,1)" text-anchor="middle" font-size="7.6" fill="#333" stroke="#333" stroke-width="0.16">충북</text>
<path d="M265.36,750.30 L265.36,708.40 A4.7,4.70 0 0 1 274.76,708.40 L274.76,750.30Z" fill="#4f88cc"/>
<text transform="translate(270.06,700.91) scale(0.84,1)" text-anchor="middle" font-size="9.8" fill="#5a80b4" stroke="#5a80b4" stroke-width="0.2">2.0</text>
<text transform="translate(270.06,773.66) scale(0.94,1)" text-anchor="middle" font-size="7.6" fill="#333" stroke="#333" stroke-width="0.16">충남</text>
<path d="M283.92,750.30 L283.92,731.70 A4.7,4.70 0 0 1 293.32,731.70 L293.32,750.30Z" fill="#4f88cc"/>
<text transform="translate(288.62,724.21) scale(0.84,1)" text-anchor="middle" font-size="9.8" fill="#5a80b4" stroke="#5a80b4" stroke-width="0.2">1.0</text>
<text transform="translate(288.62,773.66) scale(0.94,1)" text-anchor="middle" font-size="7.6" fill="#333" stroke="#333" stroke-width="0.16">전북</text>
<path d="M302.48,750.30 L302.48,729.37 A4.7,4.70 0 0 1 311.88,729.37 L311.88,750.30Z" fill="#4f88cc"/>
<text transform="translate(307.18,721.88) scale(0.84,1)" text-anchor="middle" font-size="9.8" fill="#5a80b4" stroke="#5a80b4" stroke-width="0.2">1.1</text>
<text transform="translate(307.18,773.66) scale(0.94,1)" text-anchor="middle" font-size="7.6" fill="#333" stroke="#333" stroke-width="0.16">전남</text>
<path d="M321.04,750.30 L321.04,731.70 A4.7,4.70 0 0 1 330.44,731.70 L330.44,750.30Z" fill="#4f88cc"/>
<text transform="translate(325.74,724.21) scale(0.84,1)" text-anchor="middle" font-size="9.8" fill="#5a80b4" stroke="#5a80b4" stroke-width="0.2">1.0</text>
<text transform="translate(325.74,773.66) scale(0.94,1)" text-anchor="middle" font-size="7.6" fill="#333" stroke="#333" stroke-width="0.16">경북</text>
<path d="M339.60,750.30 L339.60,734.03 A4.7,4.70 0 0 1 349.00,734.03 L349.00,750.30Z" fill="#4f88cc"/>
<text transform="translate(344.30,726.54) scale(0.84,1)" text-anchor="middle" font-size="9.8" fill="#5a80b4" stroke="#5a80b4" stroke-width="0.2">0.9</text>
<text transform="translate(344.30,773.66) scale(0.94,1)" text-anchor="middle" font-size="7.6" fill="#333" stroke="#333" stroke-width="0.16">경남</text>
<path d="M358.16,750.30 L358.16,710.73 A4.7,4.70 0 0 1 367.56,710.73 L367.56,750.30Z" fill="#4f88cc"/>
<text transform="translate(362.86,703.24) scale(0.84,1)" text-anchor="middle" font-size="9.8" fill="#5a80b4" stroke="#5a80b4" stroke-width="0.2">1.9</text>
<text transform="translate(362.86,773.66) scale(0.94,1)" text-anchor="middle" font-size="7.6" fill="#333" stroke="#333" stroke-width="0.16">제주</text>
<line x1="60" y1="795.4" x2="370" y2="795.4" stroke="#e0e0e0" stroke-width="0.9"/>
<text transform="translate(55.60,798.19) scale(0.9,1)" text-anchor="end" font-size="7.8" fill="#444">9</text>
<text transform="translate(55.60,818.19) scale(0.9,1)" text-anchor="end" font-size="7.8" fill="#444">0</text>
<line x1="60" y1="835.4" x2="370" y2="835.4" stroke="#e0e0e0" stroke-width="0.9"/>
<text transform="translate(55.60,838.19) scale(0.9,1)" text-anchor="end" font-size="7.8" fill="#444">-9</text>
<line x1="60" y1="855.4" x2="370" y2="855.4" stroke="#e0e0e0" stroke-width="0.9"/>
<text transform="translate(55.60,858.19) scale(0.9,1)" text-anchor="end" font-size="7.8" fill="#444">-15</text>
<path d="M61.20,815.40 L61.20,815.40 A4.7,3.56 0 0 1 70.60,815.40 L70.60,815.40Z" fill="#d27497"/>
<text transform="translate(65.90,808.91) scale(0.84,1)" text-anchor="middle" font-size="9.8" fill="#c66b90" stroke="#c66b90" stroke-width="0.2">1.6</text>
<path d="M79.76,815.40 L79.76,802.99 A4.7,4.70 0 0 1 89.16,802.99 L89.16,815.40Z" fill="#d27497"/>
<text transform="translate(84.46,791.51) scale(0.84,1)" text-anchor="middle" font-size="9.8" fill="#c66b90" stroke="#c66b90" stroke-width="0.2">7.7</text>
<path d="M98.32,815.40 L98.32,845.89 A4.7,4.70 0 0 0 107.72,845.89 L107.72,815.40Z" fill="#d27497"/>
<text transform="translate(103.02,861.51) scale(0.84,1)" text-anchor="middle" font-size="9.8" fill="#c66b90" stroke="#c66b90" stroke-width="0.2">-13.9</text>
<path d="M116.88,815.40 L116.88,819.37 A4.7,4.70 0 0 0 126.28,819.37 L126.28,815.40Z" fill="#d27497"/>
<text transform="translate(121.58,835.01) scale(0.84,1)" text-anchor="middle" font-size="9.8" fill="#c66b90" stroke="#c66b90" stroke-width="0.2">-3.9</text>
<path d="M135.44,815.40 L135.44,815.40 A4.7,2.89 0 0 0 144.84,815.40 L144.84,815.40Z" fill="#d27497"/>
<text transform="translate(140.14,828.91) scale(0.84,1)" text-anchor="middle" font-size="9.8" fill="#c66b90" stroke="#c66b90" stroke-width="0.2">-1.3</text>
<path d="M154.00,815.40 L154.00,816.03 A4.7,4.70 0 0 0 163.40,816.03 L163.40,815.40Z" fill="#d27497"/>
<text transform="translate(158.70,831.11) scale(0.84,1)" text-anchor="middle" font-size="9.8" fill="#c66b90" stroke="#c66b90" stroke-width="0.2">-2.4</text>
<path d="M172.56,815.40 L172.56,815.40 A4.7,3.56 0 0 0 181.96,815.40 L181.96,815.40Z" fill="#d27497"/>
<text transform="translate(177.26,828.91) scale(0.84,1)" text-anchor="middle" font-size="9.8" fill="#c66b90" stroke="#c66b90" stroke-width="0.2">-1.6</text>
<path d="M191.12,815.40 L191.12,826.70 A4.7,4.70 0 0 0 200.52,826.70 L200.52,815.40Z" fill="#d27497"/>
<text transform="translate(195.82,844.11) scale(0.84,1)" text-anchor="middle" font-size="9.8" fill="#c66b90" stroke="#c66b90" stroke-width="0.2">-7.2</text>
<path d="M209.68,815.40 L209.68,815.40 A4.7,1.56 0 0 1 219.08,815.40 L219.08,815.40Z" fill="#d27497"/>
<text transform="translate(214.38,809.91) scale(0.84,1)" text-anchor="middle" font-size="9.8" fill="#c66b90" stroke="#c66b90" stroke-width="0.2">0.7</text>
<text transform="translate(232.94,813.11) scale(0.84,1)" text-anchor="middle" font-size="9.8" fill="#c66b90" stroke="#c66b90" stroke-width="0.2">0.0</text>
<path d="M246.80,815.40 L246.80,815.40 A4.7,3.33 0 0 0 256.20,815.40 L256.20,815.40Z" fill="#d27497"/>
<text transform="translate(251.50,829.51) scale(0.84,1)" text-anchor="middle" font-size="9.8" fill="#c66b90" stroke="#c66b90" stroke-width="0.2">-1.5</text>
<path d="M265.36,815.40 L265.36,828.92 A4.7,4.70 0 0 0 274.76,828.92 L274.76,815.40Z" fill="#d27497"/>
<text transform="translate(270.06,844.51) scale(0.84,1)" text-anchor="middle" font-size="9.8" fill="#c66b90" stroke="#c66b90" stroke-width="0.2">-8.2</text>
<path d="M283.92,815.40 L283.92,817.14 A4.7,4.70 0 0 0 293.32,817.14 L293.32,815.40Z" fill="#d27497"/>
<text transform="translate(288.62,831.51) scale(0.84,1)" text-anchor="middle" font-size="9.8" fill="#c66b90" stroke="#c66b90" stroke-width="0.2">-2.9</text>
<path d="M302.48,815.40 L302.48,818.26 A4.7,4.70 0 0 0 311.88,818.26 L311.88,815.40Z" fill="#d27497"/>
<text transform="translate(307.18,833.51) scale(0.84,1)" text-anchor="middle" font-size="9.8" fill="#c66b90" stroke="#c66b90" stroke-width="0.2">-3.4</text>
<path d="M321.04,815.40 L321.04,800.77 A4.7,4.70 0 0 1 330.44,800.77 L330.44,815.40Z" fill="#d27497"/>
<text transform="translate(325.74,793.51) scale(0.84,1)" text-anchor="middle" font-size="9.8" fill="#c66b90" stroke="#c66b90" stroke-width="0.2">8.7</text>
<path d="M339.60,815.40 L339.60,815.40 A4.7,2.67 0 0 1 349.00,815.40 L349.00,815.40Z" fill="#d27497"/>
<text transform="translate(344.30,809.71) scale(0.84,1)" text-anchor="middle" font-size="9.8" fill="#c66b90" stroke="#c66b90" stroke-width="0.2">1.2</text>
<path d="M358.16,815.40 L358.16,847.44 A4.7,4.70 0 0 0 367.56,847.44 L367.56,815.40Z" fill="#d27497"/>
<text transform="translate(362.86,863.71) scale(0.84,1)" text-anchor="middle" font-size="9.8" fill="#c66b90" stroke="#c66b90" stroke-width="0.2">-14.4</text>
<line x1="60" y1="815.4" x2="370" y2="815.4" stroke="#c4c4c4" stroke-width="0.9"/>
<rect x="386.5" y="639.5" width="238" height="237.5" rx="11.5" fill="#e6f4fb"/>
<rect x="388.00" y="641.00" width="235.00" height="234.50" rx="10" fill="#fff"/>
<path d="M454,641 L563.5,641 L563.5,655.9 Q563.5,665.4 554.0,665.4 L463.5,665.4 Q454,665.4 454,655.9 Z" fill="#7fafb6"/>
<text transform="translate(510.00,658.45) scale(0.83,1)" text-anchor="middle" font-size="15" fill="#fff" font-weight="bold">1인당 주요지표</text>
<text transform="translate(574.20,656.93) scale(0.965,1)" text-anchor="start" font-size="8.5" fill="#333" stroke="#333" stroke-width="0.1">단위: 만원</text>
<rect x="393.80" y="656.50" width="7.50" height="7.00" rx="0" fill="#d3157a"/>
<text transform="translate(404.60,662.22) scale(0.845,1)" text-anchor="start" font-size="7.8" fill="#333" stroke="#333" stroke-width="0.1">1인당 지역총소득</text>
<rect x="393.80" y="670.80" width="7.50" height="7.00" rx="0" fill="#1f6db3"/>
<text transform="translate(404.60,676.72) scale(0.845,1)" text-anchor="start" font-size="7.8" fill="#333" stroke="#333" stroke-width="0.1">1인당 가계총처분가능소득</text>
<polygon points="506.10,695.20 536.44,700.87 562.69,717.12 581.29,741.76 589.74,771.45 586.89,802.19 573.13,829.82 550.32,850.62 521.53,861.77 490.67,861.77 461.88,850.62 439.07,829.82 425.31,802.19 422.46,771.45 430.91,741.76 449.51,717.12 475.76,700.87" fill="#e3e8f5" stroke="#98aac8" stroke-width="1.2"/>
<polygon points="506.10,737.20 521.27,740.04 534.40,748.16 543.70,760.48 547.92,775.32 546.50,790.69 539.62,804.51 528.21,814.91 513.82,820.48 498.38,820.48 483.99,814.91 472.58,804.51 465.70,790.69 464.28,775.32 468.50,760.48 477.80,748.16 490.93,740.04" fill="#fdf8f1" stroke="#98aac8" stroke-width="1.2"/>
<polygon points="506.10,716.20 528.86,720.45 548.54,732.64 562.50,751.12 568.83,773.39 566.70,796.44 556.38,817.17 539.27,832.76 517.68,841.13 494.52,841.13 472.93,832.76 455.82,817.17 445.50,796.44 443.37,773.39 449.70,751.12 463.66,732.64 483.34,720.45" fill="none" stroke="#a9adb6" stroke-width="0.8" stroke-dasharray="2.5,2"/>
<polygon points="506.10,758.20 513.69,759.62 520.25,763.68 524.90,769.84 527.01,777.26 526.30,784.95 522.86,791.86 517.16,797.05 509.96,799.84 502.24,799.84 495.04,797.05 489.34,791.86 485.90,784.95 485.19,777.26 487.30,769.84 491.95,763.68 498.51,759.62" fill="none" stroke="#a9adb6" stroke-width="0.8" stroke-dasharray="2.5,2"/>
<line x1="506.1" y1="779.2" x2="506.10" y2="695.20" stroke="#ababb2" stroke-width="0.7"/>
<line x1="506.1" y1="779.2" x2="536.44" y2="700.87" stroke="#ababb2" stroke-width="0.7"/>
<line x1="506.1" y1="779.2" x2="562.69" y2="717.12" stroke="#ababb2" stroke-width="0.7"/>
<line x1="506.1" y1="779.2" x2="581.29" y2="741.76" stroke="#ababb2" stroke-width="0.7"/>
<line x1="506.1" y1="779.2" x2="589.74" y2="771.45" stroke="#ababb2" stroke-width="0.7"/>
<line x1="506.1" y1="779.2" x2="586.89" y2="802.19" stroke="#ababb2" stroke-width="0.7"/>
<line x1="506.1" y1="779.2" x2="573.13" y2="829.82" stroke="#ababb2" stroke-width="0.7"/>
<line x1="506.1" y1="779.2" x2="550.32" y2="850.62" stroke="#ababb2" stroke-width="0.7"/>
<line x1="506.1" y1="779.2" x2="521.53" y2="861.77" stroke="#ababb2" stroke-width="0.7"/>
<line x1="506.1" y1="779.2" x2="490.67" y2="861.77" stroke="#ababb2" stroke-width="0.7"/>
<line x1="506.1" y1="779.2" x2="461.88" y2="850.62" stroke="#ababb2" stroke-width="0.7"/>
<line x1="506.1" y1="779.2" x2="439.07" y2="829.82" stroke="#ababb2" stroke-width="0.7"/>
<line x1="506.1" y1="779.2" x2="425.31" y2="802.19" stroke="#ababb2" stroke-width="0.7"/>
<line x1="506.1" y1="779.2" x2="422.46" y2="771.45" stroke="#ababb2" stroke-width="0.7"/>
<line x1="506.1" y1="779.2" x2="430.91" y2="741.76" stroke="#ababb2" stroke-width="0.7"/>
<line x1="506.1" y1="779.2" x2="449.51" y2="717.12" stroke="#ababb2" stroke-width="0.7"/>
<line x1="506.1" y1="779.2" x2="475.76" y2="700.87" stroke="#ababb2" stroke-width="0.7"/>
<circle cx="506.1" cy="779.2" r="2" fill="#b0b0b0"/>
<polygon points="506.10,745.90 516.55,752.23 524.09,759.46 530.84,766.88 533.85,776.63 534.88,787.39 531.73,798.56 521.13,803.47 511.17,806.33 501.21,805.34 492.30,801.49 485.00,795.13 481.19,786.29 480.22,776.80 481.75,767.07 488.98,760.42 496.50,754.42" fill="none" stroke="#1f6db3" stroke-width="2.3" stroke-linejoin="miter"/>
<polygon points="506.10,706.20 520.66,741.60 532.31,750.45 547.85,758.41 547.49,775.36 548.92,791.38 561.82,821.28 535.61,826.85 516.22,833.36 498.60,819.30 478.93,823.09 461.30,813.03 468.78,789.82 449.85,773.99 464.20,758.34 474.83,744.90 490.90,739.96" fill="none" stroke="#d3157a" stroke-width="2.3" stroke-linejoin="miter"/>
<text transform="translate(506.10,698.03) scale(0.9,1)" text-anchor="end" font-size="7.9" fill="#5b8ed0">8,000</text>
<text transform="translate(506.10,719.03) scale(0.9,1)" text-anchor="end" font-size="7.9" fill="#5b8ed0">6,000</text>
<text transform="translate(506.10,740.03) scale(0.9,1)" text-anchor="end" font-size="7.9" fill="#5b8ed0">4,000</text>
<text transform="translate(506.10,761.03) scale(0.9,1)" text-anchor="end" font-size="7.9" fill="#5b8ed0">2,000</text>
<text transform="translate(506.20,691.77) scale(0.86,1)" text-anchor="middle" font-size="8.3" fill="#3a3a3a" stroke="#3a3a3a" stroke-width="0.12">서울</text>
<text transform="translate(542.20,698.07) scale(0.86,1)" text-anchor="middle" font-size="8.3" fill="#3a3a3a" stroke="#3a3a3a" stroke-width="0.12">부산</text>
<text transform="translate(570.30,716.47) scale(0.86,1)" text-anchor="middle" font-size="8.3" fill="#3a3a3a" stroke="#3a3a3a" stroke-width="0.12">대구</text>
<text transform="translate(587.40,738.17) scale(0.86,1)" text-anchor="middle" font-size="8.3" fill="#3a3a3a" stroke="#3a3a3a" stroke-width="0.12">인천</text>
<text transform="translate(597.70,772.57) scale(0.86,1)" text-anchor="middle" font-size="8.3" fill="#3a3a3a" stroke="#3a3a3a" stroke-width="0.12">광주</text>
<text transform="translate(595.50,810.07) scale(0.86,1)" text-anchor="middle" font-size="8.3" fill="#3a3a3a" stroke="#3a3a3a" stroke-width="0.12">대전</text>
<text transform="translate(582.60,839.17) scale(0.86,1)" text-anchor="middle" font-size="8.3" fill="#3a3a3a" stroke="#3a3a3a" stroke-width="0.12">울산</text>
<text transform="translate(558.30,859.87) scale(0.86,1)" text-anchor="middle" font-size="8.3" fill="#3a3a3a" stroke="#3a3a3a" stroke-width="0.12">세종</text>
<text transform="translate(521.20,870.47) scale(0.86,1)" text-anchor="middle" font-size="8.3" fill="#3a3a3a" stroke="#3a3a3a" stroke-width="0.12">경기</text>
<text transform="translate(490.50,870.47) scale(0.86,1)" text-anchor="middle" font-size="8.3" fill="#3a3a3a" stroke="#3a3a3a" stroke-width="0.12">강원</text>
<text transform="translate(453.30,859.87) scale(0.86,1)" text-anchor="middle" font-size="8.3" fill="#3a3a3a" stroke="#3a3a3a" stroke-width="0.12">충북</text>
<text transform="translate(429.10,839.17) scale(0.86,1)" text-anchor="middle" font-size="8.3" fill="#3a3a3a" stroke="#3a3a3a" stroke-width="0.12">충남</text>
<text transform="translate(414.50,810.07) scale(0.86,1)" text-anchor="middle" font-size="8.3" fill="#3a3a3a" stroke="#3a3a3a" stroke-width="0.12">전북</text>
<text transform="translate(413.60,772.57) scale(0.86,1)" text-anchor="middle" font-size="8.3" fill="#3a3a3a" stroke="#3a3a3a" stroke-width="0.12">전남</text>
<text transform="translate(420.00,738.17) scale(0.86,1)" text-anchor="middle" font-size="8.3" fill="#3a3a3a" stroke="#3a3a3a" stroke-width="0.12">경북</text>
<text transform="translate(440.40,716.47) scale(0.86,1)" text-anchor="middle" font-size="8.3" fill="#3a3a3a" stroke="#3a3a3a" stroke-width="0.12">경남</text>
<text transform="translate(468.80,697.47) scale(0.86,1)" text-anchor="middle" font-size="8.3" fill="#3a3a3a" stroke="#3a3a3a" stroke-width="0.12">제주</text>
<text transform="translate(209.3,51.5) scale(0.93,1.1)" font-size="27.3" font-weight="bold" fill="#f1e92e">2024</text>
<text transform="translate(267.66,49.1) scale(1,1.1)" font-size="23.5" font-weight="bold" fill="#f1e92e">년</text>
<text transform="translate(297.66,49.1) scale(1,1.1)" font-size="23.5" font-weight="bold" fill="#f1e92e">지</text>
<text transform="translate(320.56,49.1) scale(1,1.1)" font-size="23.5" font-weight="bold" fill="#f1e92e">역</text>
<text transform="translate(343.26,49.1) scale(1,1.1)" font-size="23.5" font-weight="bold" fill="#f1e92e">소</text>
<text transform="translate(367.36,49.1) scale(1,1.1)" font-size="23.5" font-weight="bold" fill="#f1e92e">득</text>
<text transform="translate(398.06,49.1) scale(1,1.1)" font-size="23.5" font-weight="bold" fill="#f1e92e">잠</text>
<text transform="translate(420.96,49.1) scale(1,1.1)" font-size="23.5" font-weight="bold" fill="#f1e92e">정</text>
<text transform="translate(389.59,49.6) scale(1,1.1)" font-size="24.5" font-weight="bold" fill="#f1e92e">(</text>
<text transform="translate(444.09,49.6) scale(1,1.1)" font-size="24.5" font-weight="bold" fill="#f1e92e">)</text>
<circle cx="540" cy="42" r="13.1" fill="#e6eff6"/>
<circle cx="540" cy="42" r="11.9" fill="#1b3a78"/>
<path d="M540,42 L529.91,35.69 A11.9,11.9 0 1 1 546.31,52.09 Z" fill="#d21f40"/>
<circle cx="539.5" cy="42.7" r="9.2" fill="#1b3a78"/>
<path d="M530.39,41.42 A9.2,9.2 0 0 1 548.61,43.98 A4.6,4.6 0 0 0 539.5,42.7 A4.6,4.6 0 0 1 530.39,41.42 Z" fill="#fbf6f8"/>
<text transform="translate(556.40,42.32) scale(0.86,1)" text-anchor="start" font-size="12" fill="#fff" font-weight="bold">국가데이터처</text>
<text transform="translate(556.40,51.06) scale(0.9,1)" text-anchor="start" font-size="5.2" fill="#fff" font-weight="bold">Ministry of Data and Statistics</text></svg></body></html>
